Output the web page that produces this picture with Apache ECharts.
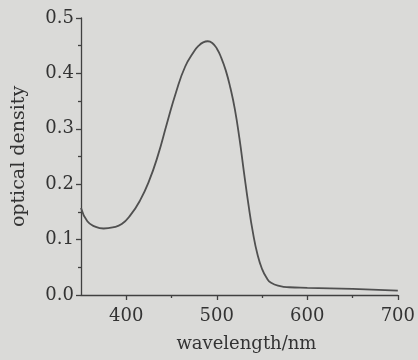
<!DOCTYPE html>
<html><head><meta charset="utf-8">
<script src="https://cdn.jsdelivr.net/npm/echarts@6/dist/echarts.min.js"></script>
<style>html,body{margin:0;padding:0;background:#dadad8;}#c{width:418px;height:360px;}</style>
</head><body><div id="c"></div>
<script>
var wavelength = [350,357,365,375,385,395,405,415,425,435,445,455,465,475,480,485,490,495,500,505,510,515,520,525,530,535,540,545,550,555,560,570,580,600,650,700];
var opticalDensity = [0.157,0.133,0.124,0.120,0.122,0.128,0.145,0.170,0.205,0.252,0.310,0.366,0.412,0.440,0.450,0.456,0.458,0.455,0.445,0.428,0.405,0.374,0.335,0.283,0.222,0.163,0.112,0.073,0.047,0.031,0.022,0.016,0.014,0.013,0.011,0.008];
var xMajorTicks = [400,500,600,700];
var xMinorTicks = [450,550,650];

var font = 'DejaVu Serif';
var txt = '#333333';
var axisCol = '#404040';
var chart = echarts.init(document.getElementById('c'));
chart.setOption({
  backgroundColor: '#dadad8',
  animation: false,
  grid: {left: 81, right: 15, top: 18, bottom: 65},
  xAxis: [{
    type: 'value', min: 350, max: 700,
    name: 'wavelength/nm', nameLocation: 'middle', nameGap: 40,
    nameTextStyle: {fontFamily: font, fontSize: 18, color: txt, padding: [0, 0, 0, 14]},
    axisLine: {show: true, lineStyle: {color: axisCol, width: 1.3}},
    axisTick: {show: true, customValues: xMajorTicks, length: 5, lineStyle: {color: axisCol, width: 1.3}},
    axisLabel: {customValues: xMajorTicks, fontFamily: font, fontSize: 18, color: txt, margin: 12},
    splitLine: {show: false}
  }, {
    type: 'value', min: 350, max: 700, position: 'bottom',
    axisLine: {show: false},
    axisTick: {show: true, customValues: xMinorTicks, length: 3, lineStyle: {color: axisCol, width: 1.3}},
    axisLabel: {show: false},
    splitLine: {show: false}
  }],
  yAxis: {
    type: 'value', min: 0, max: 0.5, interval: 0.1,
    name: 'optical density', nameLocation: 'middle', nameGap: 52,
    nameTextStyle: {fontFamily: font, fontSize: 19, color: txt},
    axisLine: {show: true, lineStyle: {color: axisCol, width: 1.3}},
    axisTick: {show: true, length: 5, lineStyle: {color: axisCol, width: 1.3}},
    minorTick: {show: true, splitNumber: 2, length: 3, lineStyle: {color: axisCol, width: 1.3}},
    axisLabel: {fontFamily: font, fontSize: 18, color: txt, margin: 7,
      formatter: function (v) { return v.toFixed(1); }},
    splitLine: {show: false}
  },
  series: [{
    type: 'line', smooth: 0.5, showSymbol: false,
    data: wavelength.map(function (w, i) { return [w, opticalDensity[i]]; }),
    lineStyle: {color: '#505050', width: 1.8}
  }]
});
</script></body></html>
